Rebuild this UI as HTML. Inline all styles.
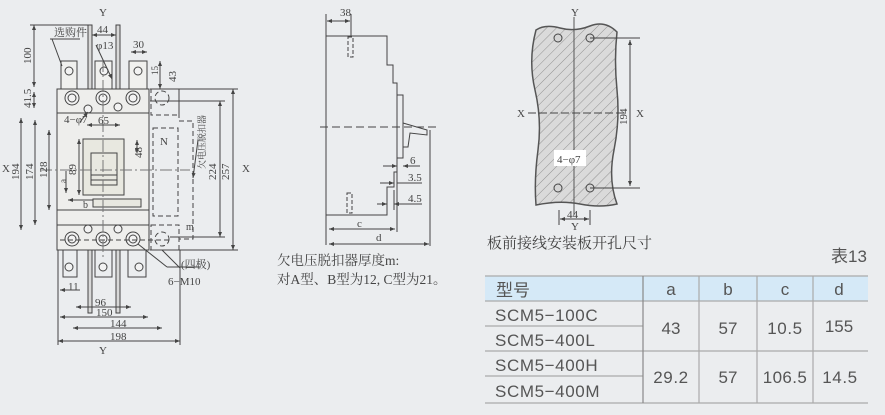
<!DOCTYPE html>
<html><head><meta charset="utf-8"><style>
html,body{margin:0;padding:0;background:#ebedef;}
svg{display:block}
.t{font-family:"Liberation Serif","Noto Serif CJK SC",serif;fill:#444}
.s{font-family:"Liberation Sans","Noto Sans CJK SC",sans-serif;fill:#555}
</style></head><body>
<svg width="885" height="415" viewBox="0 0 885 415" xmlns="http://www.w3.org/2000/svg">
<defs>
<pattern id="h" width="7" height="7" patternUnits="userSpaceOnUse" patternTransform="rotate(45)">
<rect width="7" height="7" fill="#dadada"/><line x1="0" y1="0" x2="0" y2="7" stroke="#8a8a8a" stroke-width="0.9"/></pattern>
<marker id="a" markerWidth="6" markerHeight="6" refX="5" refY="3" orient="auto-start-reverse"><path d="M0,1 L5,3 L0,5z" fill="#444"/></marker>
</defs>
<rect width="885" height="415" fill="#ebedef"/>
<g stroke="#444" fill="none" stroke-width="1">
<path d="M61,61h16v28h-16z M95,61h17v28h-17z M129,61h18v28h-18z" fill="#f0f0ee"/>
<path d="M60,250 l3,-0 v27 h14 v-27 M95,250v27h17v-27 M128,250v27h18v-27"/>
<rect x="88" y="25" width="4" height="64" fill="#d8d8d8"/><rect x="116" y="25" width="4" height="64" fill="#d8d8d8"/>
<rect x="88" y="250" width="4" height="63" fill="#d8d8d8"/><rect x="116" y="250" width="4" height="63" fill="#d8d8d8"/>
<rect x="57" y="89" width="92" height="161" fill="#eeeeec"/>
<line x1="57" y1="113" x2="149" y2="113"/><line x1="57" y1="210" x2="149" y2="210"/><line x1="57" y1="225" x2="149" y2="225"/>
<rect x="83" y="139" width="41" height="56" fill="#e8e8e0"/>
<rect x="91" y="153" width="26" height="32"/><line x1="91" y1="175" x2="117" y2="175"/><line x1="91" y1="180" x2="117" y2="180"/>
<rect x="93" y="199" width="48" height="8" fill="#e8e8e0"/>
<g fill="#f2f2f2">
<circle cx="72" cy="98" r="7"/><circle cx="103" cy="98" r="7"/><circle cx="133" cy="98" r="7"/>
<circle cx="72" cy="239" r="7"/><circle cx="103" cy="239" r="7"/><circle cx="133" cy="239" r="7"/>
<circle cx="88" cy="109" r="4"/><circle cx="118" cy="107" r="4"/><circle cx="88" cy="229" r="4"/><circle cx="118" cy="229" r="4"/>
<circle cx="69" cy="71" r="4"/><circle cx="104" cy="71" r="4"/><circle cx="138" cy="71" r="4"/>
<circle cx="69" cy="267" r="4"/><circle cx="103" cy="267" r="4"/><circle cx="139" cy="267" r="4"/>
</g>
<circle cx="72" cy="98" r="4"/><circle cx="103" cy="98" r="4"/><circle cx="133" cy="98" r="4"/>
<circle cx="72" cy="239" r="4"/><circle cx="103" cy="239" r="4"/><circle cx="133" cy="239" r="4"/>
<g stroke-dasharray="5,3">
<rect x="151" y="89" width="28" height="26"/><circle cx="162" cy="98" r="7"/><circle cx="162" cy="239" r="7"/>
<rect x="151" y="225" width="28" height="25"/>
<path d="M179,89 v32 h14 v118 h-14"/><rect x="153" y="128" width="25" height="88"/>
<line x1="60" y1="240" x2="170" y2="240"/>
</g>
<line x1="103" y1="60" x2="103" y2="260" stroke-dasharray="12,3,2,3" stroke="#777"/>
<line x1="40" y1="170" x2="190" y2="170" stroke-dasharray="12,3,2,3" stroke="#777"/>
<line x1="34" y1="25" x2="34" y2="87" marker-start="url(#a)" marker-end="url(#a)"/>
<line x1="30" y1="25" x2="88" y2="25"/>
<line x1="34" y1="92" x2="34" y2="108" marker-start="url(#a)" marker-end="url(#a)"/>
<line x1="21" y1="118" x2="21" y2="230" marker-start="url(#a)" marker-end="url(#a)"/>
<line x1="35" y1="120" x2="35" y2="225" marker-start="url(#a)" marker-end="url(#a)"/>
<line x1="49" y1="130" x2="49" y2="210" marker-start="url(#a)" marker-end="url(#a)"/>
<line x1="79" y1="139" x2="79" y2="195" marker-start="url(#a)" marker-end="url(#a)"/>
<line x1="66" y1="171" x2="66" y2="193" marker-end="url(#a)"/>
<line x1="68" y1="200" x2="93" y2="200" marker-start="url(#a)"/>
<line x1="137" y1="140" x2="137" y2="153" marker-start="url(#a)" marker-end="url(#a)"/>
<line x1="87" y1="125" x2="120" y2="125" marker-start="url(#a)" marker-end="url(#a)"/>
<line x1="92" y1="35" x2="116" y2="35" marker-start="url(#a)" marker-end="url(#a)"/>
<line x1="131" y1="52" x2="147" y2="52" marker-start="url(#a)" marker-end="url(#a)"/>
<line x1="160" y1="61" x2="160" y2="89" marker-start="url(#a)" marker-end="url(#a)"/>
<line x1="220" y1="101" x2="220" y2="237" marker-start="url(#a)" marker-end="url(#a)"/>
<line x1="233" y1="89" x2="233" y2="250" marker-start="url(#a)" marker-end="url(#a)"/>
<line x1="150" y1="89" x2="238" y2="89"/><line x1="150" y1="250" x2="238" y2="250"/>
<line x1="150" y1="101" x2="225" y2="101"/><line x1="170" y1="237" x2="225" y2="237"/>
<line x1="60" y1="290" x2="80" y2="290" marker-start="url(#a)"/>
<line x1="76" y1="307" x2="131" y2="307" marker-start="url(#a)" marker-end="url(#a)"/>
<line x1="60" y1="317" x2="148" y2="317" marker-start="url(#a)" marker-end="url(#a)"/>
<line x1="73" y1="328" x2="162" y2="328" marker-start="url(#a)" marker-end="url(#a)"/>
<line x1="58" y1="341" x2="180" y2="341" marker-start="url(#a)" marker-end="url(#a)"/>
<line x1="58" y1="250" x2="58" y2="345"/><line x1="180" y1="250" x2="180" y2="345"/>
<line x1="52" y1="39" x2="62" y2="66"/><line x1="50" y1="39" x2="80" y2="39"/>
<line x1="96" y1="45" x2="112" y2="79" marker-end="url(#a)"/>
<line x1="80" y1="122" x2="88" y2="112" marker-end="url(#a)"/>
<line x1="138" y1="244" x2="167" y2="267"/><line x1="167" y1="267" x2="200" y2="267"/>
<line x1="162" y1="250" x2="180" y2="268"/>
<line x1="198" y1="140" x2="193" y2="178" marker-end="url(#a)"/>
<path d="M326,36 H387 V65 H393 V83 H397 V172 H394 V187 H387 V215 H326 Z" fill="#ebedef"/>
<rect x="397" y="95" width="6" height="63"/>
<path d="M403,123 L427,130 V135 L410,133 L408,147 H403"/>
<line x1="320" y1="127" x2="437" y2="127" stroke-dasharray="8,4"/>
<rect x="348" y="37" width="5" height="20" stroke-dasharray="4,2"/><rect x="347" y="193" width="5" height="20" stroke-dasharray="4,2"/>
<line x1="326" y1="14" x2="326" y2="245"/><line x1="351" y1="14" x2="351" y2="36"/>
<line x1="327" y1="21" x2="350" y2="21" marker-start="url(#a)" marker-end="url(#a)"/>
<line x1="329" y1="229" x2="395" y2="229" marker-start="url(#a)" marker-end="url(#a)"/>
<line x1="329" y1="244" x2="429" y2="244" marker-start="url(#a)" marker-end="url(#a)"/>
<line x1="397" y1="160" x2="397" y2="232"/><line x1="430" y1="130" x2="430" y2="246"/><line x1="394" y1="190" x2="394" y2="210"/>
<line x1="383" y1="166" x2="397" y2="166" marker-end="url(#a)"/><line x1="403" y1="166" x2="420" y2="166" marker-start="url(#a)"/>
<line x1="380" y1="183" x2="394" y2="183" marker-end="url(#a)"/><line x1="397" y1="183" x2="422" y2="183"/>
<line x1="377" y1="204" x2="387" y2="204" marker-end="url(#a)"/><line x1="394" y1="204" x2="422" y2="204" marker-start="url(#a)"/>
<path d="M536,30 Q545,24 560,28 T590,26 T617,32 Q614,60 617,90 T614,150 T617,204 Q600,208 580,204 T536,205 Q534,180 538,150 T535,90 T536,30 Z" fill="url(#h)" stroke="#555" stroke-width="1.5"/>
<g fill="#d4d4d4"><circle cx="558" cy="38" r="4"/><circle cx="590" cy="38" r="4"/><circle cx="558" cy="188" r="4"/><circle cx="590" cy="188" r="4"/></g>
<line x1="574" y1="17" x2="574" y2="215" stroke="#555"/>
<line x1="528" y1="113" x2="625" y2="113" stroke-dasharray="8,3"/>
<line x1="590" y1="38" x2="640" y2="38"/><line x1="590" y1="188" x2="640" y2="188"/>
<line x1="630" y1="40" x2="630" y2="186" marker-start="url(#a)" marker-end="url(#a)"/>
<line x1="559" y1="210" x2="559" y2="225"/><line x1="590" y1="210" x2="590" y2="225"/>
<line x1="560" y1="219" x2="589" y2="219" marker-start="url(#a)" marker-end="url(#a)"/>
</g>
<rect x="554" y="150" width="32" height="16" fill="#fff"/>
<g class="t" font-size="11">
<text x="99" y="16">Y</text><text x="54" y="36">选购件</text>
<text x="97" y="33">44</text><text x="96" y="49">φ13</text><text x="133" y="48">30</text>
<text x="64" y="123">4−φ7</text><text x="98" y="124">65</text>
<text x="160" y="145">N</text><text x="2" y="172">X</text><text x="242" y="172">X</text>
<text x="95" y="306">96</text><text x="96" y="316">150</text><text x="110" y="327">144</text><text x="110" y="340">198</text>
<text x="99" y="354">Y</text><text x="68" y="290">11</text>
<text x="181" y="268">(四极)</text><text x="168" y="285">6−M10</text>
<text x="83" y="208" font-size="10">b</text><text x="186" y="230" font-size="10">m</text>
<text x="340" y="16">38</text><text x="357" y="227">c</text><text x="376" y="241">d</text>
<text x="410" y="164">6</text><text x="408" y="181">3.5</text><text x="408" y="202">4.5</text>
<text x="571" y="16">Y</text><text x="517" y="117">X</text><text x="636" y="117">X</text>
<text x="567" y="218">44</text><text x="571" y="230">Y</text><text x="557" y="163">4−φ7</text>
</g>
<g class="t" font-size="11">
<text transform="translate(31,64) rotate(-90)">100</text>
<text transform="translate(31,108) rotate(-90)">41.5</text>
<text transform="translate(19,180) rotate(-90)">194</text>
<text transform="translate(33,180) rotate(-90)">174</text>
<text transform="translate(47,178) rotate(-90)">128</text>
<text transform="translate(76,175) rotate(-90)">89</text>
<text transform="translate(66,183) rotate(-90)" font-size="9">a</text>
<text transform="translate(142,158) rotate(-90)">48</text>
<text transform="translate(158,75) rotate(-90)" font-size="9">15</text>
<text transform="translate(176,82) rotate(-90)">43</text>
<text transform="translate(216,180) rotate(-90)">224</text>
<text transform="translate(229,180) rotate(-90)">257</text>
<text transform="translate(205,169) rotate(-90)" font-size="9">欠电压脱扣器</text>
<text transform="translate(627,125) rotate(-90)">194</text>
</g>
<g class="t" font-size="13.5">
<text x="277" y="265">欠电压脱扣器厚度m:</text>
<text x="277" y="284">对A型、B型为12, C型为21。</text>
<text x="487" y="248" font-size="15">板前接线安装板开孔尺寸</text>
</g>
<rect x="485" y="276" width="383" height="25" fill="#d5e9f7"/>
<g stroke="#aaa" stroke-width="1.2">
<line x1="485" y1="276" x2="868" y2="276"/><line x1="485" y1="301" x2="868" y2="301"/>
<line x1="485" y1="326" x2="643" y2="326"/><line x1="485" y1="351" x2="868" y2="351"/>
<line x1="485" y1="376" x2="643" y2="376"/><line x1="485" y1="403" x2="868" y2="403"/>
<line x1="643" y1="276" x2="643" y2="403" stroke="#888"/><line x1="699" y1="276" x2="699" y2="403"/>
<line x1="757" y1="276" x2="757" y2="403"/><line x1="813" y1="276" x2="813" y2="403"/>
</g>
<g class="s" font-size="17">
<text x="831" y="262">表13</text>
<text x="496" y="296">型号</text>
<text x="671" y="295" text-anchor="middle">a</text><text x="728" y="295" text-anchor="middle">b</text>
<text x="785" y="295" text-anchor="middle">c</text><text x="839" y="295" text-anchor="middle">d</text>
<text x="495" y="321" letter-spacing="0.6">SCM5−100C</text>
<text x="495" y="346" letter-spacing="0.6">SCM5−400L</text>
<text x="495" y="371" letter-spacing="0.6">SCM5−400H</text>
<text x="495" y="397" letter-spacing="0.6">SCM5−400M</text>
<text x="671" y="334" text-anchor="middle">43</text><text x="728" y="334" text-anchor="middle">57</text>
<text x="785" y="334" text-anchor="middle" letter-spacing="0.6">10.5</text><text x="839" y="332" text-anchor="middle">155</text>
<text x="671" y="383" text-anchor="middle" letter-spacing="0.6">29.2</text><text x="728" y="383" text-anchor="middle">57</text>
<text x="785" y="383" text-anchor="middle" letter-spacing="0.4">106.5</text><text x="840" y="383" text-anchor="middle" letter-spacing="0.6">14.5</text>
</g>
</svg>
</body></html>
